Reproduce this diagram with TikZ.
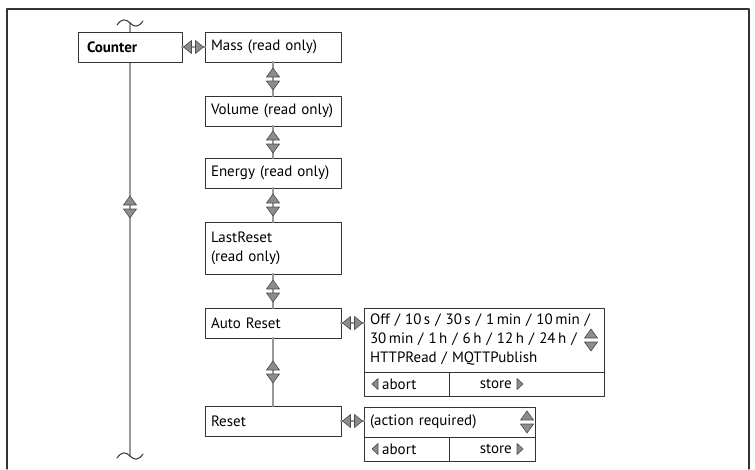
\documentclass[tikz,border=0pt]{standalone}
\usepackage{fontspec}
\setmainfont{PT Sans}
\usetikzlibrary{calc}
\definecolor{boxline}{gray}{0.2}
\definecolor{trunkgray}{gray}{0.6}
\definecolor{tipfill}{gray}{0.55}
\definecolor{tipline}{gray}{0.3}
\newcommand{\menufont}{\fontsize{15}{19}\selectfont}
\tikzset{
  menubox/.style={draw=boxline, fill=white, line width=1pt, anchor=north west, outer sep=0pt,
    inner xsep=6pt, text width=#1, align=left, minimum height=30pt, font=\menufont},
  menubox/.default=124pt,
  cellbox/.style={draw=boxline, fill=white, line width=1pt, anchor=north west, outer sep=0pt, minimum height=24pt},
  celltext/.style={inner sep=0pt, font=\menufont},
  trunk/.style={draw=trunkgray, line width=2.5pt},
  switchtip/.style={fill=tipfill, draw=tipline, line width=0.6pt},
  pics/vswitch/.style={code={
    \draw[switchtip] (-6.5,-2) -- (6.5,-2) -- (0,-11) -- cycle;
    \draw[switchtip] (-6.5,2) -- (6.5,2) -- (0,11) -- cycle;}},
  pics/hswitch/.style={code={
    \draw[switchtip] (-2,-6.5) -- (-2,6.5) -- (-10,0) -- cycle;
    \draw[switchtip] (2,-6.5) -- (2,6.5) -- (10,0) -- cycle;}},
  pics/ltip/.style={code={\draw[switchtip] (3,-5.5) -- (3,5.5) -- (-3,0) -- cycle;}},
  pics/rtip/.style={code={\draw[switchtip] (-3,-5.5) -- (-3,5.5) -- (3,0) -- cycle;}},
  pics/tilde/.style={code={\draw[boxline, line width=1pt] (-13,2) .. controls (-8,-5) and (-4,-4) .. (0,0) .. controls (4,4) and (8,5) .. (13,-2);}}
}
\begin{document}
\begin{tikzpicture}[x=1pt, y=-1pt, line join=round, line cap=round]
  \useasboundingbox (0,0) rectangle (755,469);
  \draw[boxline, line width=1.2pt] (7,469) -- (7,9) -- (749,9) -- (749,469);
  % trunk of the menu
  \coordinate (top) at (130,23);
  \coordinate (bottom) at (130,456);
  \draw[trunk] (top) -- (bottom);
  \pic at (top) {tilde};
  \pic at (bottom) {tilde};
  \pic at (130,207) {vswitch};
  % menu column
  \node[menubox=86pt, inner xsep=9pt, font=\menufont\bfseries] (counter) at (78,32) {Counter};
  \node[menubox] (mass) at (205,32) {Mass (read only)};
  \node[menubox] (volume) at (205,96) {Volume~(read~only)};
  \node[menubox] (energy) at (205,158) {Energy (read only)};
  \node[menubox, minimum height=52pt] (lastreset) at (205,222) {LastReset\\(read only)};
  \node[menubox] (autoreset) at (205,308) {Auto Reset};
  \node[menubox] (reset) at (205,406) {Reset};
  \foreach \a/\b in {mass/volume, volume/energy, energy/lastreset, lastreset/autoreset, autoreset/reset}{
    \draw[trunk] (\a) -- (\b);
    \pic at ($(\a.south)!1/2!(\b.north)$) {vswitch};
  }
  % selections
  \node[menubox=228pt, minimum height=64pt] (arsel) at (364,308)
    {Off / 10\,s / 30\,s / 1\,min / 10\,min /\\30\,min / 1\,h / 6\,h / 12\,h / 24\,h /\\HTTPRead / MQTTPublish};
  \node[menubox=159pt] (rssel) at (364,407) {(action required)};
  \pic at ($(arsel.east)+(-13,0)$) {vswitch};
  \pic at ($(rssel.east)+(-8,0)$) {vswitch};
  \foreach \s/\w in {ar/155, rs/86}{
    \node[cellbox, minimum width=85pt] (\s-abort) at (\s sel.south west) {};
    \node[cellbox, minimum width=\w pt] (\s-store) at (\s-abort.north east) {};
    \pic at ($(\s-abort.west)+(11,0)$) {ltip};
    \node[celltext, anchor=west] (\s-abortlabel) at ($(\s-abort.west)+(18,0)$) {abort};
    \node[celltext, anchor=east] (\s-storelabel) at ($(\s-abort.east)+(63,0)$) {store};
    \pic at ($(\s-abort.east)+(71,0)$) {rtip};
  }
  % horizontal links
  \foreach \a/\b in {counter/mass, autoreset/arsel, reset/rssel}{
    \draw[trunk] (\a.east) -- (\a.east -| \b.west);
    \pic at ($(\a.east)!1/2!(\a.east -| \b.west)$) {hswitch};
  }
\end{tikzpicture}
\end{document}
